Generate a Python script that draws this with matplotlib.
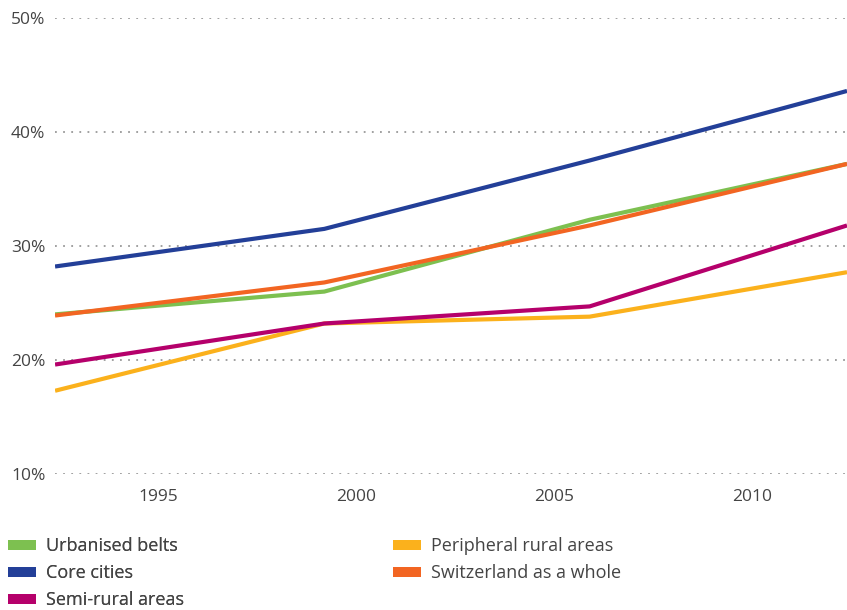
import matplotlib.pyplot as plt
from matplotlib.patches import Patch

plt.rcParams['font.family'] = ['Open Sans', 'DejaVu Sans']

years = [1992.4, 1999.2, 2005.9, 2012.4]
urbanised = [24.0, 26.0, 32.3, 37.2]
core = [28.2, 31.5, 37.5, 43.6]
semi_rural = [19.6, 23.2, 24.7, 31.8]
peripheral = [17.3, 23.2, 23.8, 27.7]
switzerland = [23.9, 26.8, 31.8, 37.2]

labels = ['Urbanised belts', 'Core cities', 'Semi-rural areas',
          'Peripheral rural areas', 'Switzerland as a whole']
colors = ['#7dc050', '#233f98', '#b5006b', '#fbb11c', '#f26522']
series = [urbanised, core, semi_rural, peripheral, switzerland]

fig = plt.figure(figsize=(8.47, 6.10), dpi=100)
ax = fig.add_axes([0.065, 0.223, 0.935, 0.7475])

# draw order: rural lines first, then the rest
for i in [3, 2, 1, 0, 4]:
    ax.plot(years, series[i], color=colors[i], lw=3, solid_capstyle='butt', zorder=3)

ax.set_xlim(1992.4, 2012.4)
ax.set_ylim(10, 50)
ax.set_yticks([10, 20, 30, 40, 50])
ax.set_yticklabels(['10%', '20%', '30%', '40%', '50%'])
ax.set_xticks([1995, 2000, 2005, 2010])
ax.tick_params(length=0, labelsize=12.5, labelcolor='#444444')
ax.tick_params(axis='y', pad=7)
ax.tick_params(axis='x', pad=11)
ax.grid(axis='y', color='#999999', linestyle=(0, (1, 3.5)), lw=1.3, zorder=0)
for s in ax.spines.values():
    s.set_visible(False)

h1 = [Patch(facecolor=c, edgecolor='none') for c in colors[:3]]
h2 = [Patch(facecolor=c, edgecolor='none') for c in colors[3:]]
kw = dict(loc='upper left', frameon=False, fontsize=13, handlelength=1.55,
          handleheight=0.5, handletextpad=0.55, labelspacing=0.49,
          borderpad=0, borderaxespad=0, labelcolor='#444444')
leg1 = fig.legend(h1, labels[:3], bbox_to_anchor=(0.009, 0.119), **kw)
fig.add_artist(leg1)
fig.legend(h2, labels[3:], bbox_to_anchor=(0.464, 0.119), **kw)

fig.savefig('out.png', dpi=100)
